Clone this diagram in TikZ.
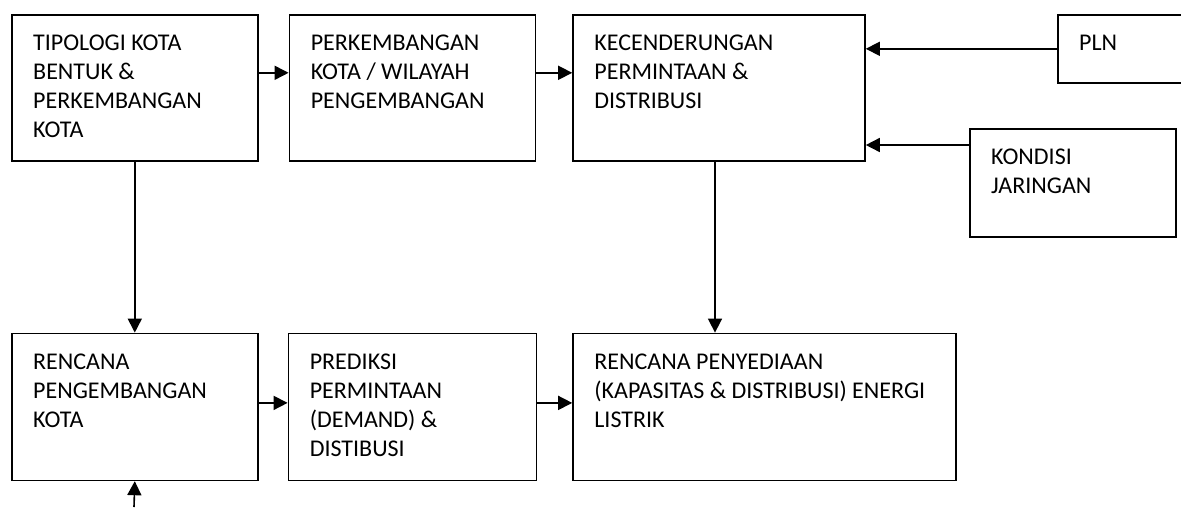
\documentclass[tikz,border=0pt]{standalone}
\usepackage{fontspec}
\setmainfont{Carlito}
\usetikzlibrary{positioning}
\usetikzlibrary{arrows.meta}
\tikzset {
  x=1pt, y=-1pt,
  % kotak proses
  kotak/.style = {draw, rectangle, line width=1.6pt, anchor=north west, inner sep=0pt},
  % isi teks di pojok kiri atas kotak
  teks/.style = {anchor=north west, inner sep=0pt, align=left, font=\fontsize{24}{29}\selectfont},
  % panah antar kotak
  panah/.style = {-{Triangle[length=14pt,width=14pt]}, line width=1.6pt},
}
\newcommand{\isi}[2]{
  \node[teks] (t-#1) at ([shift={(22,21)}]#1.north west) {#2};
}

\begin{document}
\begin{tikzpicture}
        \useasboundingbox (0,0) rectangle (1181,507);

        \node[kotak, minimum width=246, minimum height=146] (tipologi) at (11,14) {};
        \node[kotak, minimum width=246, minimum height=146, right=30pt of tipologi] (perkembangan) {};
        \node[kotak, minimum width=292, minimum height=146, right=36pt of perkembangan] (kecenderungan) {};
        \node[kotak, minimum width=143, minimum height=68] (pln) at (1057,14) {};
        \node[kotak, minimum width=206, minimum height=108] (kondisi) at (969,128) {};

        \node[kotak, minimum width=246, minimum height=147, below=171pt of tipologi.south west, anchor=north west] (rencana) {};
        \node[kotak, minimum width=248, minimum height=147, right=29pt of rencana] (prediksi) {};
        \node[kotak, minimum width=383, minimum height=147, right=35pt of prediksi] (penyediaan) {};

        \isi{tipologi}{TIPOLOGI KOTA\\BENTUK \&\\PERKEMBANGAN\\KOTA}
        \isi{perkembangan}{PERKEMBANGAN\\KOTA / WILAYAH\\PENGEMBANGAN}
        \isi{kecenderungan}{KECENDERUNGAN\\PERMINTAAN \&\\DISTRIBUSI}
        \isi{pln}{PLN}
        \isi{kondisi}{KONDISI\\JARINGAN}
        \isi{rencana}{RENCANA\\PENGEMBANGAN\\KOTA}
        \isi{prediksi}{PREDIKSI\\PERMINTAAN\\(DEMAND) \&\\DISTIBUSI}
        \isi{penyediaan}{RENCANA PENYEDIAAN\\(KAPASITAS \& DISTRIBUSI) ENERGI\\LISTRIK}

        \coordinate (masuk) at (134,507);

        \draw[panah] ([yshift=15pt]tipologi.east) -- ([yshift=15pt]tipologi.east -| perkembangan.west);
        \draw[panah] ([yshift=15pt]perkembangan.east) -- ([yshift=15pt]perkembangan.east -| kecenderungan.west);
        \draw[panah] (pln.west) -- (pln.west -| kecenderungan.east);
        \draw[panah] ([yshift=-17pt]kondisi.north west) -- ([yshift=-17pt]kondisi.north west -| kecenderungan.east);
        \draw[panah] (tipologi.south) -- (rencana.north);
        \draw[panah] ([xshift=-4pt]kecenderungan.south) -- ([xshift=-4pt]kecenderungan.south |- penyediaan.north);
        \draw[panah] ([yshift=4pt]rencana.east) -- ([yshift=4pt]rencana.east -| prediksi.west);
        \draw[panah] ([yshift=4pt]prediksi.east) -- ([yshift=4pt]prediksi.east -| penyediaan.west);
        \draw[panah] (masuk) -- (rencana.south);
      \end{tikzpicture}
\end{document}
